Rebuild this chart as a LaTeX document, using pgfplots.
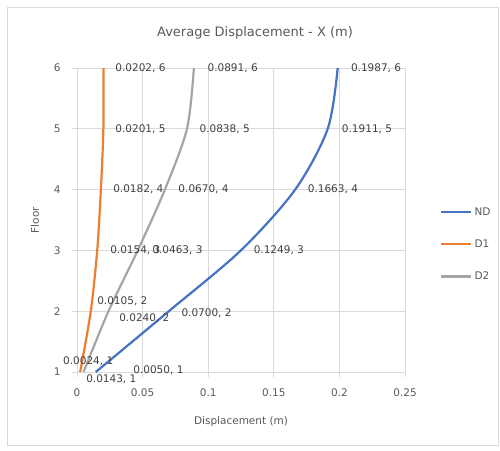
\documentclass[border=0pt]{standalone}
\usepackage{pgfplots}
\pgfplotsset{compat=1.18}
\usepackage{fontspec}
\setmainfont{DejaVu Sans}
\definecolor{ndblue}{HTML}{4472C4}
\definecolor{dorange}{HTML}{ED7D31}
\definecolor{dgray}{HTML}{A5A5A5}
\definecolor{txt}{HTML}{595959}
\definecolor{lbl}{HTML}{404040}
\definecolor{gridc}{HTML}{D9D9D9}
\newcommand\lblfont{\fontsize{10.5}{12}\selectfont}
\begin{document}
\begin{tikzpicture}[x=1pt,y=1pt]
\useasboundingbox (0,0) rectangle (500,450);
\draw[gridc, line width=0.8pt] (7,5) rectangle (498.5,443);
\node[txt, font=\fontsize{13}{15}\selectfont] at (255,417) {Average Displacement - X (m)};
\begin{axis}[
  at={(77pt,78pt)}, anchor=south west,
  scale only axis, width=328pt, height=304pt,
  xmin=0, xmax=0.25, ymin=1, ymax=6,
  xtick={0,0.05,0.1,0.15,0.2,0.25}, ytick={1,2,3,4,5,6},
  xticklabels={0,0.05,0.1,0.15,0.2,0.25},
  yticklabels={1,2,3,4,5,6},
  xticklabel style={font=\lblfont, text=txt, yshift=-8pt},
  yticklabel style={font=\lblfont, text=txt, xshift=-8pt},
  tick pos=left, tick align=outside, major tick length=5pt,
  tick style={gridc, line width=0.8pt},
  axis line style={gridc, line width=0.8pt},
  grid=major, grid style={gridc, line width=0.8pt},
  xlabel={Displacement (m)}, ylabel={Floor},
  xlabel style={font=\lblfont, text=txt, at={(axis description cs:0.5,0)}, anchor=center, yshift=-50pt},
  ylabel style={font=\lblfont, text=txt, at={(axis description cs:0,0.5)}, anchor=center, yshift=42pt},
  clip=false,
  legend style={at={(axis description cs:1.107,0.548)}, anchor=north west,
    draw=none, fill=none, inner sep=0pt, font=\lblfont,
    row sep=19pt, cells={anchor=west}},
  legend image code/.code={\draw[#1] (0pt,0pt) -- (30pt,0pt);},
]
% legend entries
\addlegendimage{draw=ndblue, line width=2.2pt}
\addlegendimage{draw=dorange, line width=2.2pt}
\addlegendimage{draw=dgray, line width=2.2pt}
% ND
\addplot[draw=ndblue, line width=2.2pt, smooth, forget plot] coordinates {
  (0.0143,1) (0.0700,2) (0.1249,3) (0.1663,4) (0.1911,5) (0.1987,6)};
% D1
\addplot[draw=dorange, line width=2.2pt, smooth, forget plot] coordinates {
  (0.0024,1) (0.0105,2) (0.0154,3) (0.0182,4) (0.0201,5) (0.0202,6)};
% D2
\addplot[draw=dgray, line width=2.2pt, smooth, forget plot] coordinates {
  (0.0050,1) (0.0240,2) (0.0463,3) (0.0670,4) (0.0838,5) (0.0891,6)};
\legend{\textcolor{txt}{ND},\textcolor{txt}{D1},\textcolor{txt}{D2}}
% data labels
\begin{scope}[every node/.style={anchor=west, inner sep=0pt, text=lbl, font=\lblfont}]
\node at (axis cs:0.0291,6) {0.0202, 6};
\node at (axis cs:0.0994,6) {0.0891, 6};
\node at (axis cs:0.2087,6) {0.1987, 6};
\node at (axis cs:0.0291,5) {0.0201, 5};
\node at (axis cs:0.0933,5) {0.0838, 5};
\node at (axis cs:0.2018,5) {0.1911, 5};
\node at (axis cs:0.0275,4) {0.0182, 4};
\node at (axis cs:0.0772,4) {0.0670, 4};
\node at (axis cs:0.1758,4) {0.1663, 4};
\node at (axis cs:0.0252,3) {0.0154, 3};
\node at (axis cs:0.0573,3) {0.0463, 3};
\node at (axis cs:0.1346,3) {0.1249, 3};
\node at (axis cs:0.0153,2.16) {0.0105, 2};
\node at (axis cs:0.0321,1.89) {0.0240, 2};
\node at (axis cs:0.0795,1.96) {0.0700, 2};
\node at (axis cs:-0.0107,1.17) {0.0024, 1};
\node at (axis cs:0.0069,0.88) {0.0143, 1};
\node at (axis cs:0.0428,1.03) {0.0050, 1};
\end{scope}
\end{axis}
\end{tikzpicture}
\end{document}
